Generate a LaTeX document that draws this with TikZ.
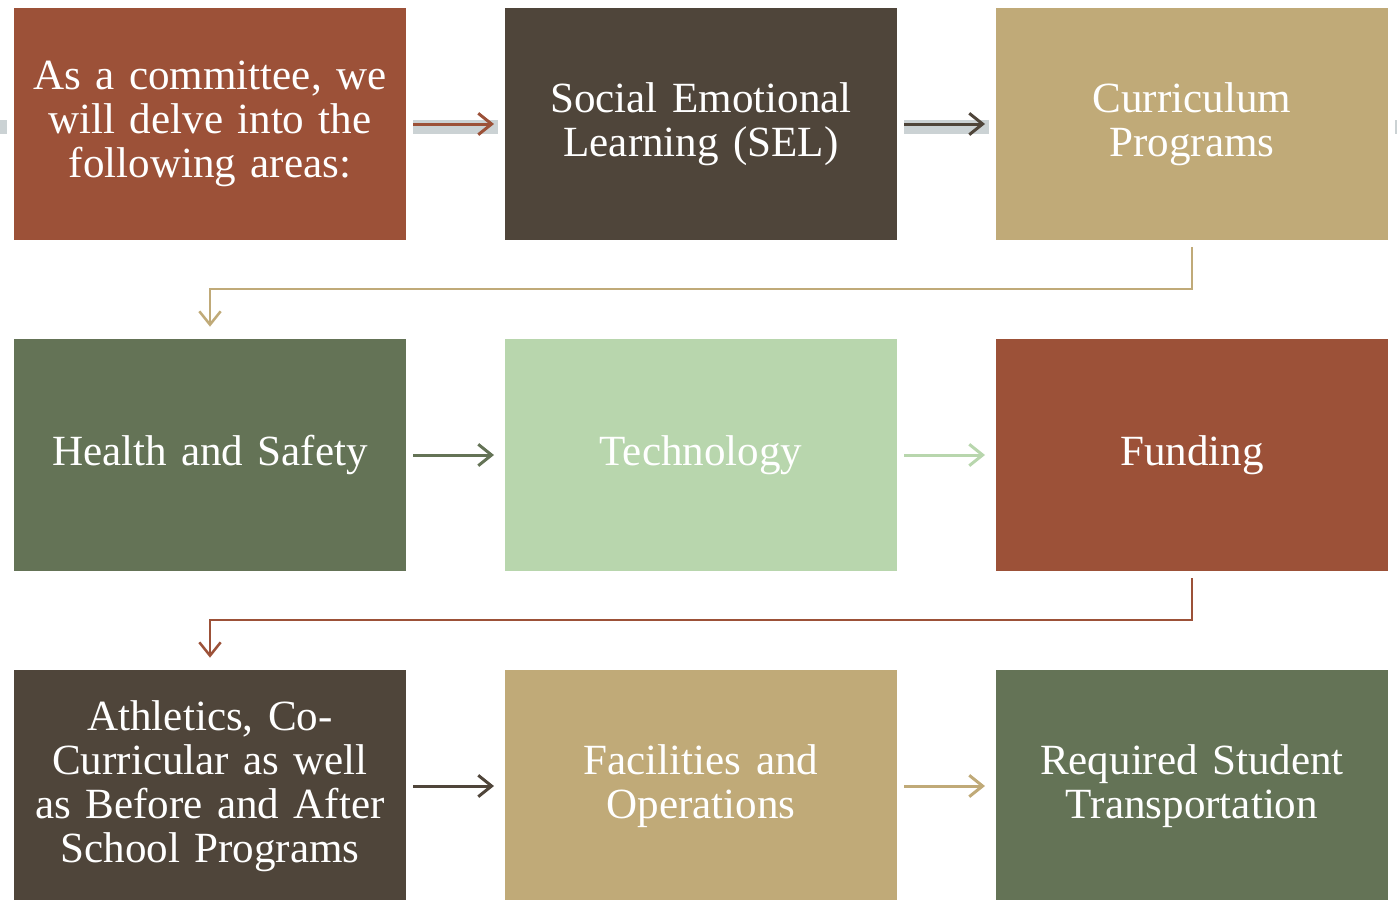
\documentclass[tikz,border=0pt]{standalone}
\usepackage{fontspec}
\setmainfont{Liberation Serif}
\usetikzlibrary{arrows.meta,calc}
\definecolor{rust}{HTML}{9C5138}
\definecolor{dbrown}{HTML}{4F453A}
\definecolor{tan}{HTML}{C0AA78}
\definecolor{sage}{HTML}{647356}
\definecolor{lgreen}{HTML}{B8D6AD}
\definecolor{band}{HTML}{CBD2D4}
\begin{document}
\begin{tikzpicture}[x=0.75pt,y=-0.75pt,
  box/.style={draw=white,line width=5.25pt,minimum width=299.25pt,minimum height=179.25pt,
    inner sep=0pt,text width=285pt,align=center,text=white,
    font=\fontsize{32.3}{33}\selectfont},
  rowarrow/.style={line width=2.25pt,-{Straight Barb[length=10pt,width=16pt]},shorten >=3pt},
  turnarrow/.style={line width=1.9pt,-{Straight Barb[length=10pt,width=16pt]},shorten >=4pt}]
\useasboundingbox (0,0) rectangle (1397,900);
\fill[band] (0,120) rectangle (1397,134);
\node[box,fill=rust]   (a) at (210,124) {As a committee, we\\will delve into the\\following areas:};
\node[box,fill=dbrown] (b) at (701,124) {Social Emotional\\Learning (SEL)};
\node[box,fill=tan]    (c) at (1192,124) {Curriculum\\Programs};
\node[box,fill=sage]   (d) at (210,455) {Health and Safety};
\node[box,fill=lgreen] (e) at (701,455) {Technology};
\node[box,fill=rust]   (f) at (1192,455) {Funding};
\node[box,fill=dbrown] (g) at (210,786) {Athletics, Co-\\Curricular as well\\as Before and After\\School Programs};
\node[box,fill=tan]    (h) at (701,786) {Facilities and\\Operations};
\node[box,fill=sage]   (i) at (1192,786) {Required Student\\Transportation};
\draw[rowarrow,rust]   (a.east) -- (b.west);
\draw[rowarrow,dbrown] (b.east) -- (c.west);
\draw[rowarrow,sage]   (d.east) -- (e.west);
\draw[rowarrow,lgreen] (e.east) -- (f.west);
\draw[rowarrow,dbrown] (g.east) -- (h.west);
\draw[rowarrow,tan]    (h.east) -- (i.west);
\draw[turnarrow,tan]  (c.south) -- ++(0,42) -| (d.north);
\draw[turnarrow,rust] (f.south) -- ++(0,42) -| (g.north);
\end{tikzpicture}
\end{document}
